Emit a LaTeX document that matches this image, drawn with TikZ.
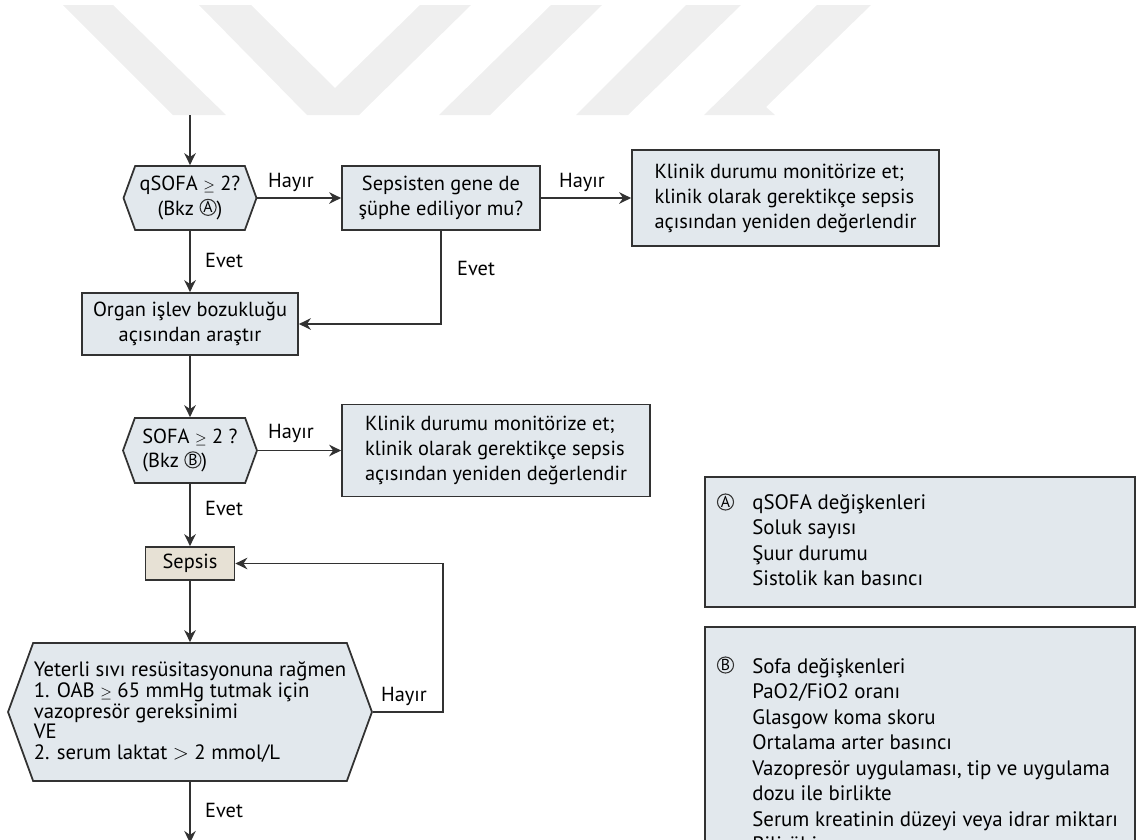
\documentclass[tikz,border=0pt]{standalone}
\usepackage{fontspec}
\setmainfont{PT Sans}
\usetikzlibrary{arrows.meta,shapes.symbols}

\definecolor{boxfill}{RGB}{226,232,237}
\definecolor{sepsisfill}{RGB}{231,225,213}
\definecolor{edge}{RGB}{50,50,50}
\definecolor{wmark}{RGB}{239,239,239}

\newcommand{\metin}{\fontsize{11.6}{14.2}\selectfont}
\newcommand{\liste}{\fontsize{11.9}{14.4}\selectfont}
\newcommand{\gek}{{\footnotesize$\geq$}}
\newcommand{\harf}[1]{\tikz[baseline=-0.8ex]\node[circle,draw=edge,fill=none,line width=0.6pt,minimum width=0pt,minimum height=0pt,inner sep=0.3pt,align=center,font=\fontsize{9}{9}\selectfont]{#1};}

\begin{document}
\begin{tikzpicture}[x=0.02cm,y=-0.02cm,
  kutu/.style={draw=edge,fill=boxfill,line width=1pt,inner sep=0pt,font=\metin},
  karar/.style={kutu,signal,signal to=west and east,signal pointer angle=140},
  etiket/.style={font=\metin,inner sep=0pt},
  ok/.style={draw=edge,line width=1pt,-{Stealth[length=2.4mm,width=2.3mm]}}]
\useasboundingbox (0,0) rectangle (1136,839);

\fill[wmark] (63,5) -- (113,5) -- (226,115) -- (173,115) -- cycle;
\fill[wmark] (199,5) -- (251,5) -- (335,88) -- (420,5) -- (471,5) -- (359,115) -- (307,115) -- cycle;
\fill[wmark] (551,5) -- (602,5) -- (490,115) -- (439,115) -- cycle;
\fill[wmark] (686,5) -- (741,5) -- (628,115) -- (576,115) -- cycle;
\fill[wmark] (817,5) -- (871,5) -- (766,107) -- (775,115) -- (704,115) -- cycle;

\coordinate (basla) at (190,115);
\node[karar,minimum width=2.66cm,minimum height=1.28cm,align=center] (qsofa) at (190,198) {qSOFA \gek{} 2?\\(Bkz \harf{A})};
\node[kutu,minimum width=3.96cm,minimum height=1.28cm,align=center] (sepsisten) at (441,198) {Sepsisten gene de\\şüphe ediliyor mu?};
\node[kutu,minimum width=6.14cm,minimum height=1.92cm,align=left] (klinik1) at (785.5,198) {Klinik durumu monitörize et;\\klinik olarak gerektikçe sepsis\\açısından yeniden değerlendir};
\node[kutu,minimum width=4.32cm,minimum height=1.24cm,align=center] (organ) at (190,324) {Organ işlev bozukluğu\\açısından araştır};
\node[karar,minimum width=2.68cm,minimum height=1.30cm,align=left] (sofa) at (190,450.5) {SOFA \gek{} 2 ?\\(Bkz \harf{B})};
\node[kutu,minimum width=6.16cm,minimum height=1.84cm,align=left] (klinik2) at (496,450.5) {Klinik durumu monitörize et;\\klinik olarak gerektikçe sepsis\\açısından yeniden değerlendir};
\node[kutu,fill=sepsisfill,minimum width=1.78cm,minimum height=0.66cm] (sepsis) at (190,563.5) {Sepsis};
\node[karar,minimum width=7.28cm,minimum height=2.76cm,align=left,font=\fontsize{11.8}{11.7}\selectfont] (bighex) at (190,712) {Yeterli sıvı resüsitasyonuna rağmen\\1. OAB \gek{} 65 mmHg tutmak için\\vazopresör gereksinimi\\VE\\2. serum laktat $>$ 2 mmol/L};
\coordinate (son) at (190,843);

\node[etiket] (hayir1) at (291,182) {Hayır};
\node[etiket] (hayir2) at (582,182) {Hayır};
\node[etiket] (evet1) at (224,260) {Evet};
\node[etiket] (evet2) at (476,268) {Evet};
\node[etiket] (hayir3) at (291,433) {Hayır};
\node[etiket] (evet3) at (224,508) {Evet};
\node[etiket] (hayir4) at (404,696) {Hayır};
\node[etiket] (evet4) at (224,810) {Evet};

\draw[ok] (basla) -- (qsofa.north);
\draw[ok] (qsofa.east) -- (sepsisten.west);
\draw[ok] (sepsisten.east) -- (klinik1.west);
\draw[ok] (qsofa.south) -- (organ.north);
\draw[ok] (sepsisten.south) |- (organ.east);
\draw[ok] (organ.south) -- (sofa.north);
\draw[ok] (sofa.east) -- (klinik2.west);
\draw[ok] (sofa.south) -- (sepsis.north);
\draw[ok] (sepsis.south) -- (bighex.north);
\draw[ok] (bighex.east) -- ++(70,0) |- (sepsis.east);
\draw[ok] (bighex.south) -- (son);

\node[kutu,minimum width=8.6cm,minimum height=2.6cm] (legA) at (920,542) {};
\node at (725.5,502) (harfA) {\harf{A}};
\node[etiket,align=left,anchor=west,font=\liste] (listeA) at (752,540) {qSOFA değişkenleri\\Soluk sayısı\\Şuur durumu\\Sistolik kan basıncı};

\node[kutu,minimum width=8.6cm,minimum height=5.06cm] (legB) at (920,753.5) {};
\node at (725.5,665) (harfB) {\harf{B}};
\node[etiket,align=left,anchor=north west,font=\fontsize{11.9}{14.5}\selectfont] (listeB) at (752,658) {Sofa değişkenleri\\PaO2/FiO2 oranı\\Glasgow koma skoru\\Ortalama arter basıncı\\Vazopresör uygulaması, tip ve uygulama\\dozu ile birlikte\\Serum kreatinin düzeyi veya idrar miktarı\\Bilirübin};
\end{tikzpicture}
\end{document}
